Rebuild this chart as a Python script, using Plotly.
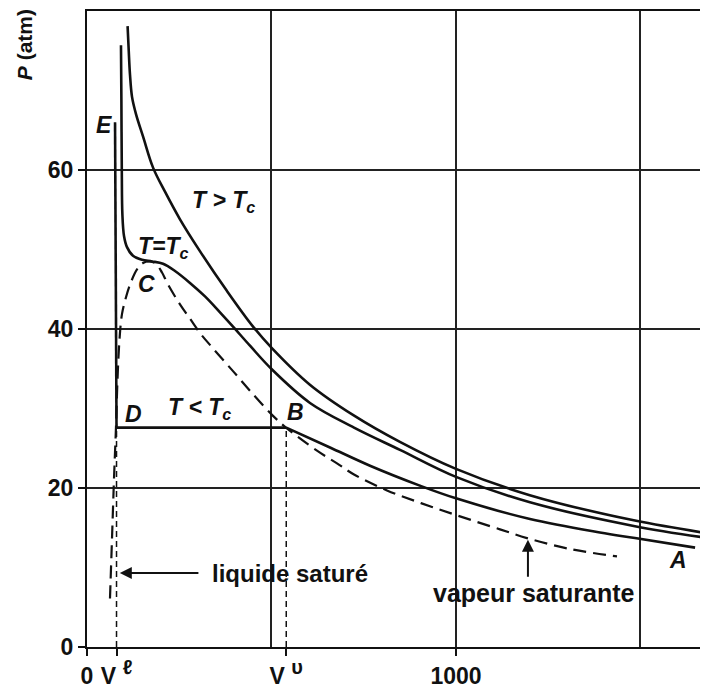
import plotly.graph_objects as go

# ---- data ----
# isotherm T > Tc
V_hot = [110, 113, 116.5, 122, 133, 152, 179, 211, 252, 306, 379, 450, 501, 604, 724, 848, 1000, 1200, 1485, 1683]
P_hot = [78.1, 75.1, 72.0, 69.2, 67.0, 64.2, 60.3, 57.3, 53.8, 49.8, 44.8, 40.3, 37.6, 33.0, 29.1, 25.8, 22.4, 19.1, 15.9, 14.3]

# isotherm T = Tc
V_crit = [92.1, 93.2, 94.3, 95.9, 100.3, 108.4, 124.7, 149.1, 176.2, 206, 238.5, 279.1, 319.8, 360.4, 395.7,
          441.7, 501.4, 604.3, 723.6, 848.2, 1000, 1200.5, 1485, 1683]
P_crit = [75.7, 68.8, 60.0, 54.4, 51.7, 50.3, 49.2, 48.7, 48.5, 48.2, 47.3, 45.8, 44.1, 42.1, 40.3,
          37.9, 34.9, 30.7, 27.6, 24.8, 21.4, 18.2, 15.2, 13.7]

# isotherm T < Tc : liquid branch E-D, plateau D-B, vapour branch B-A
V_liq = [76, 80]
P_liq = [66.0, 27.6]
V_plat = [80, 540]
P_plat = [27.6, 27.6]
V_vap = [540, 658.5, 767, 902, 1000, 1200.5, 1390, 1485, 1648]
P_vap = [27.6, 25.1, 22.8, 20.3, 18.7, 16.1, 14.4, 13.7, 12.5]

# saturation curve (dashed)
V_sat = [62.3, 67.8, 73.2, 78.6, 82.7, 88.1, 94.9, 105.7, 119.2, 135.5, 151.8, 170.7, 187.0, 203.3, 219.5,
         252.0, 279.1, 306.2, 333.3, 395.7, 449.9, 501.4, 542.0, 623.3, 677.5, 723.6, 813.0, 905.1, 1000,
         1119.2, 1192.4, 1311.7, 1436.3]
P_sat = [6.1, 13.7, 21.2, 27.7, 33.7, 38.7, 41.9, 44.0, 45.9, 47.5, 48.3, 48.5, 48.2, 47.1, 45.6,
         43.1, 41.3, 39.5, 38.0, 34.7, 31.8, 29.2, 27.5, 24.7, 23.1, 21.7, 19.7, 18.1, 16.6,
         14.8, 13.7, 12.3, 11.4]

V_l = 80     # saturated liquid volume
V_v = 540    # saturated vapour volume
P_s = 27.6   # saturation pressure

x_tickvals = [0, V_l, V_v, 1000]
x_ticktext = ["0", "V <sup><span style='font-size:20px'>ℓ</span></sup>",
              "V <sup><span style='font-size:20px'>υ</span></sup>", "1000"]
x_grid = [500, 1000, 1500]
y_tickvals = [0, 20, 40, 60]

BLACK = "#111111"
solid = dict(color=BLACK, width=2.6)

fig = go.Figure()
fig.add_trace(go.Scatter(x=V_hot, y=P_hot, mode="lines", line=dict(**solid, shape="spline", smoothing=1.0)))
fig.add_trace(go.Scatter(x=V_crit, y=P_crit, mode="lines", line=dict(**solid, shape="spline", smoothing=1.0)))
fig.add_trace(go.Scatter(x=V_liq, y=P_liq, mode="lines", line=solid))
fig.add_trace(go.Scatter(x=V_plat, y=P_plat, mode="lines", line=solid))
fig.add_trace(go.Scatter(x=V_vap, y=P_vap, mode="lines", line=dict(**solid, shape="spline", smoothing=1.0)))
fig.add_trace(go.Scatter(x=V_sat, y=P_sat, mode="lines",
                         line=dict(color=BLACK, width=2.2, dash="13px,7px", shape="spline", smoothing=1.0)))
# vertical dashed lines at V_l and V_v (on the grid axis)
fig.add_trace(go.Scatter(x=[V_l, V_l, None, V_v, V_v], y=[0, P_s, None, 0, P_s], mode="lines",
                         line=dict(color=BLACK, width=1.5, dash="6px,4px"), xaxis="x2"))

tick_font = dict(family="Liberation Sans", size=23, color=BLACK, weight="bold")
lab_font = dict(family="Liberation Sans", size=23, color=BLACK, weight="bold")

fig.update_layout(
    width=700, height=681,
    margin=dict(l=79, r=0, t=3, b=40),
    paper_bgcolor="white", plot_bgcolor="white",
    showlegend=False,
    xaxis=dict(range=[0, 1683], tickvals=x_tickvals, ticktext=x_ticktext, tickfont=tick_font,
               ticks="outside", ticklen=7, tickwidth=2, tickcolor=BLACK,
               showline=True, linewidth=2, linecolor=BLACK, mirror=True,
               showgrid=False, zeroline=False),
    xaxis2=dict(range=[0, 1683], overlaying="x", tickvals=x_grid, showticklabels=False, ticks="",
                showgrid=True, gridcolor="#222222", gridwidth=1.6, zeroline=False, showline=False),
    yaxis=dict(range=[0, 80], tickvals=y_tickvals, tickfont=tick_font,
               ticks="outside", ticklen=7, tickwidth=2, tickcolor=BLACK,
               showline=True, linewidth=2, linecolor=BLACK,
               showgrid=True, gridcolor="#222222", gridwidth=1.6, zeroline=False),
)

it = lambda s: "<i>" + s + "</i>"
labels = [
    (46, 65.7, "E"), (369, 56.0, "T &gt; T<sub>c</sub>"), (206, 50.3, "T=T<sub>c</sub>"),
    (160, 45.6, "C"), (125, 29.3, "D"), (306, 30.0, "T &lt; T<sub>c</sub>"),
    (564, 29.5, "B"), (1602, 11.0, "A"),
]
for x, y, t in labels:
    fig.add_annotation(x=x, y=y, text=it(t), showarrow=False, font=lab_font,
                       xanchor="center", yanchor="middle")

fig.add_annotation(x=333, y=9.3, text="liquide saturé", showarrow=False,
                   font=dict(family="Liberation Sans", size=24, color=BLACK, weight="bold"),
                   xanchor="left", yanchor="middle")
fig.add_annotation(x=932, y=6.8, text="vapeur saturante", showarrow=False,
                   font=dict(family="Liberation Sans", size=25, color=BLACK, weight="bold"),
                   xanchor="left", yanchor="middle")
# arrows
fig.add_annotation(x=89, y=9.3, ax=306, ay=9.3, axref="x", ayref="y", text="", showarrow=True,
                   arrowhead=2, arrowsize=1.2, arrowwidth=2, arrowcolor=BLACK)
fig.add_annotation(x=1195, y=13.5, ax=1195, ay=8.65, axref="x", ayref="y", text="", showarrow=True,
                   arrowhead=2, arrowsize=1.2, arrowwidth=2, arrowcolor=BLACK)

fig.add_annotation(xref="paper", x=1.0, y=-2.6, text="<i>V<sub>m</sub></i>  (cm<sup>3</sup>)",
                   showarrow=False, font=tick_font, xanchor="right", yanchor="middle")
fig.add_annotation(xref="paper", x=-0.1014, y=75.7, text="<i>P</i> (atm)", textangle=-90,
                   showarrow=False, font=dict(family="Liberation Sans", size=21, color=BLACK, weight="bold"),
                   xanchor="center", yanchor="middle")

fig.write_html("out.html")
